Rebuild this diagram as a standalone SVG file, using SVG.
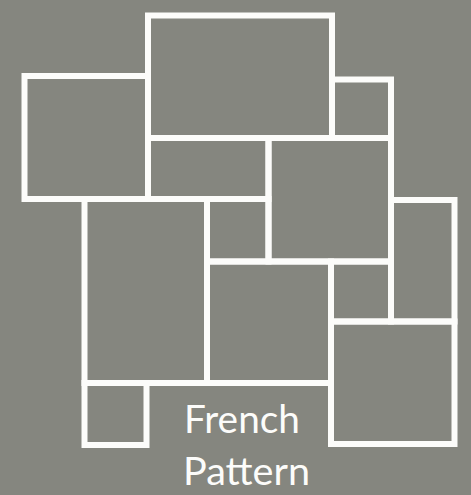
<svg xmlns="http://www.w3.org/2000/svg" width="471" height="495" viewBox="0 0 471 495">
<style>
.t{fill:none;stroke:#fcfcfa;stroke-width:6;stroke-linejoin:miter}
.lbl{fill:#fcfcfa;font-family:Lato,"Open Sans","DejaVu Sans",sans-serif;font-size:39px}
</style>
<rect width="471" height="495" fill="#85867f"/>
<g id="top-big"><rect class="t" x="148" y="15.5" width="184" height="122.5"/></g>
<g id="left"><rect class="t" x="24.5" y="76" width="123.5" height="123"/></g>
<g id="top-small"><rect class="t" x="332" y="79.5" width="59" height="58.5"/></g>
<g id="mid-left"><rect class="t" x="148" y="138" width="120.5" height="61"/></g>
<g id="mid-right"><rect class="t" x="268.5" y="138" width="122.5" height="123.5"/></g>
<g id="big-bottom-left"><rect class="t" x="84.5" y="199" width="122.5" height="184"/></g>
<g id="small-center"><rect class="t" x="207" y="199" width="61.5" height="62.5"/></g>
<g id="center"><rect class="t" x="207" y="261.5" width="124" height="121.5"/></g>
<g id="small-right"><rect class="t" x="331" y="261.5" width="60" height="60"/></g>
<g id="tall-right"><rect class="t" x="391" y="200" width="63.5" height="121.5"/></g>
<g id="bottom-right"><rect class="t" x="331" y="321.5" width="123.5" height="122.5"/></g>
<g id="bottom-small"><rect class="t" x="84.5" y="383" width="62" height="62"/></g>
<g id="connectors"></g>
<g id="label">
<text class="lbl" x="184" y="433" textLength="116" lengthAdjust="spacingAndGlyphs">French</text>
<text class="lbl" x="183" y="485" textLength="127" lengthAdjust="spacingAndGlyphs">Pattern</text>
</g>
</svg>
